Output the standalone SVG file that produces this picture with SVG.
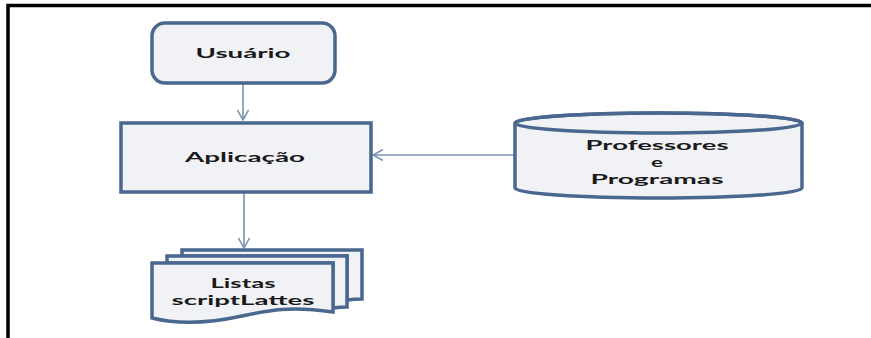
<svg xmlns="http://www.w3.org/2000/svg" width="871" height="338" viewBox="0 0 871 338">
<defs>
<style>
.shape{fill:#f1f2f5;stroke:#4a6790;stroke-width:3.5}
.lbl{font-family:Lato,"Open Sans","Liberation Sans",sans-serif;font-weight:bold;font-size:14px;fill:#1a1a1a;text-anchor:middle}
.conn{stroke:#7890b4;stroke-width:1.6;fill:none}
</style>
<marker id="arr" viewBox="0 0 12 12" refX="11" refY="6" markerWidth="12" markerHeight="12" markerUnits="userSpaceOnUse" orient="auto">
<path d="M1,0.5 L11,6 L1,11.5" fill="none" stroke="#7890b4" stroke-width="1.5"/>
</marker>
</defs>
<rect width="871" height="338" fill="#ffffff"/>
<path d="M8,338 V5.5 H871" fill="none" stroke="#000" stroke-width="3.5"/>
<g id="connectors">
<line class="conn" x1="243" y1="84" x2="243" y2="120" marker-end="url(#arr)"/>
<line class="conn" x1="515" y1="155" x2="373" y2="155" marker-end="url(#arr)"/>
<line class="conn" x1="244" y1="193" x2="244" y2="248" marker-end="url(#arr)"/>
</g>
<g id="usuario">
<rect class="shape" x="152" y="23" width="183" height="60" rx="13"/>
<text class="lbl" x="243" y="58" textLength="95" lengthAdjust="spacingAndGlyphs">Usuário</text>
</g>
<g id="aplicacao">
<rect class="shape" x="121" y="123" width="250" height="69"/>
<text class="lbl" x="245" y="162" textLength="120" lengthAdjust="spacingAndGlyphs">Aplicação</text>
</g>
<g id="professores">
<path class="shape" d="M515,123 V188 A143.5,10 0 0 0 802,188 V123 A143.5,10 0 0 0 515,123 Z"/>
<ellipse cx="658.5" cy="123" rx="143.5" ry="10" fill="none" stroke="#4a6790" stroke-width="3.5"/>
<text class="lbl" x="657" y="150" textLength="143" lengthAdjust="spacingAndGlyphs">Professores</text>
<text class="lbl" x="657" y="167" textLength="12" lengthAdjust="spacingAndGlyphs">e</text>
<text class="lbl" x="657" y="184" textLength="133" lengthAdjust="spacingAndGlyphs">Programas</text>
</g>
<g id="listas">
<path class="shape" d="M182,250 H362 V299 Q355,299 347,300 V256 H182 Z"/>
<path class="shape" d="M167,256 H347 V307 Q340,307 333,308 V263 H167 Z"/>
<path class="shape" d="M152,263 H333 V312 C290,306 270,310 242,316 C210,323 180,325 152,318 Z"/>
<text class="lbl" x="243" y="288" textLength="65" lengthAdjust="spacingAndGlyphs">Listas</text>
<text class="lbl" x="243" y="305" textLength="143" lengthAdjust="spacingAndGlyphs">scriptLattes</text>
</g>
</svg>
